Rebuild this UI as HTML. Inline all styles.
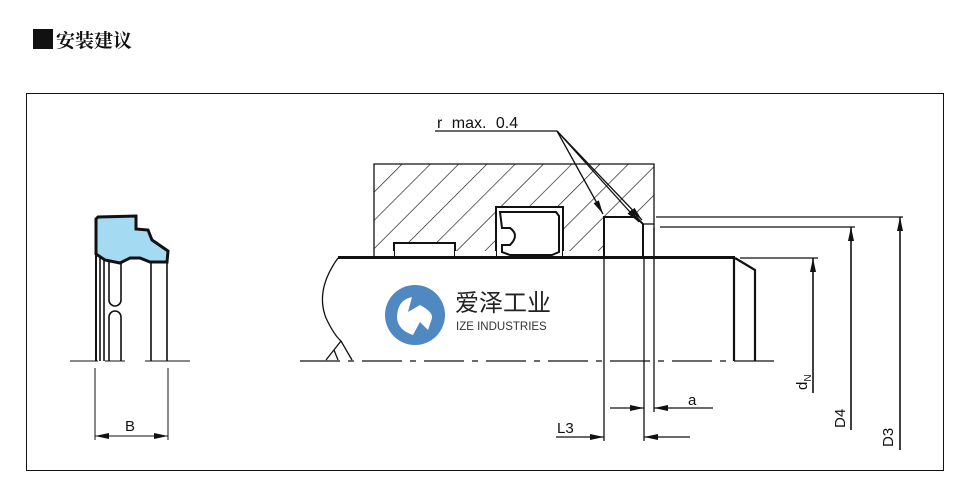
<!DOCTYPE html>
<html><head><meta charset="utf-8"><style>
html,body{margin:0;padding:0;background:#fff;width:958px;height:480px;overflow:hidden}
</style></head><body>
<svg width="958" height="480" viewBox="0 0 958 480" xmlns="http://www.w3.org/2000/svg" font-family="Liberation Sans, DejaVu Sans, sans-serif">
<defs>
<pattern id="h" patternUnits="userSpaceOnUse" width="20" height="20" patternTransform="rotate(45)">
<line x1="0" y1="0" x2="0" y2="20" stroke="#111" stroke-width="1.3"/>
</pattern>
<marker id="ar" markerWidth="14" markerHeight="6" refX="14" refY="3" orient="auto" markerUnits="userSpaceOnUse"><path d="M0,0 L14,3 L0,6 Z" fill="#111"/></marker>
</defs>
<rect x="33" y="29" width="20" height="20" fill="#111"/>
<text x="56" y="47" font-family="Noto Serif CJK SC, serif" font-weight="bold" font-size="19" fill="#111">安装建议</text>
<rect x="26.5" y="93.5" width="917" height="377" fill="none" stroke="#111" stroke-width="1"/>

<!-- left seal -->
<g stroke="#111" fill="none" stroke-width="1.6">
<line x1="70" y1="361" x2="98" y2="361" stroke-width="1"/>
<line x1="105" y1="361" x2="125" y2="361" stroke-width="1"/>
<line x1="145" y1="361" x2="190" y2="361" stroke-width="1"/>
<line x1="96" y1="225" x2="96" y2="361" stroke-width="2"/>
<line x1="100" y1="255" x2="100" y2="361"/>
<line x1="104" y1="260" x2="104" y2="361"/>
<path d="M109,262 V300 A5,5 0 0 0 121,300 V262"/>
<path d="M109,361 V317 A5,5 0 0 1 121,317 V361"/>
<line x1="151" y1="262" x2="151" y2="361"/>
<line x1="167" y1="262" x2="167" y2="361"/>
<path d="M96,219 L98,217 L136,216 L136,229 L148,230 L152,240 L168,251 L167,262 L150,262 L140,258 L130,258 L120,263 L105,260 L96,254 Z" fill="#a5dbf2" stroke-width="3"/>
<line x1="95" y1="368" x2="95" y2="440" stroke-width="1"/>
<line x1="168" y1="368" x2="168" y2="440" stroke-width="1"/>
<line x1="95" y1="436" x2="168" y2="436" marker-end="url(#ar)" stroke-width="1"/>
<line x1="168" y1="436" x2="95" y2="436" marker-end="url(#ar)" stroke-width="1"/>
</g>
<text x="125" y="431" font-size="15" fill="#111">B</text>

<!-- housing -->
<rect x="374" y="164" width="280" height="93" fill="url(#h)"/>
<g fill="#fff" stroke="#111">
<rect x="394" y="243" width="61" height="14" stroke-width="2"/>
<rect x="496" y="207" width="67" height="50" stroke-width="2"/>
<rect x="604" y="217" width="50" height="40" stroke="none"/>
<rect x="374" y="251" width="20" height="6" stroke="none"/>
<rect x="455" y="251" width="41" height="6" stroke="none"/>
<rect x="563" y="251" width="41" height="6" stroke="none"/>
</g>
<g stroke="#111" fill="none" stroke-width="1.3">
<path d="M374,257 V164 H654 V257"/>
<path d="M604,257 V217 H636 L643,224 V257" stroke-width="2"/>
<path d="M643,224 H654"/>
<path d="M500,212 H556 L559,216 V252 L552,255 H510 L502,252 V245 H510 Q520,235 510,228 H502 Z" stroke-width="2"/>
<line x1="338" y1="257.5" x2="735" y2="257.5" stroke-width="3"/>
<path d="M735,258 L755,270 V361" stroke-width="2.2"/>
<line x1="734" y1="258" x2="734" y2="361" stroke-width="2.2"/>
<path d="M338,258 Q315,290 326,318 Q334,335 341,341 L352,360 M341,341 L326,360 M334,350 L338,360"/>
<line x1="300" y1="361" x2="780" y2="361" stroke-dasharray="40,8,6,8"/>
<line x1="604" y1="257" x2="604" y2="441"/>
<line x1="644" y1="257" x2="644" y2="441"/>
<line x1="654" y1="228" x2="654" y2="412"/>
<line x1="610" y1="408" x2="644" y2="408" marker-end="url(#ar)"/>
<line x1="713" y1="408" x2="654" y2="408" marker-end="url(#ar)"/>
<line x1="556" y1="437" x2="604" y2="437" marker-end="url(#ar)"/>
<line x1="690" y1="437" x2="644" y2="437" marker-end="url(#ar)"/>
<line x1="656" y1="217" x2="903" y2="217"/>
<line x1="660" y1="227" x2="855" y2="227"/>
<line x1="740" y1="258" x2="818" y2="258"/>
<line x1="900" y1="450" x2="900" y2="217" marker-end="url(#ar)" stroke-width="1.6"/>
<line x1="851" y1="430" x2="851" y2="227" marker-end="url(#ar)" stroke-width="1.6"/>
<line x1="813" y1="393" x2="813" y2="258" marker-end="url(#ar)" stroke-width="1.6"/>
<line x1="435" y1="131" x2="557" y2="131"/>
<line x1="557" y1="131" x2="603" y2="214" marker-end="url(#ar)"/>
<line x1="557" y1="131" x2="642" y2="220" marker-end="url(#ar)"/>
<line x1="557" y1="131" x2="639" y2="222" marker-end="url(#ar)"/>
</g>
<text x="437" y="128" font-size="16" fill="#111" word-spacing="5">r max. 0.4</text>
<text x="688" y="405" font-size="15" fill="#111">a</text>
<text x="557" y="433" font-size="15" fill="#111">L3</text>
<text transform="translate(807,390) rotate(-90)" font-size="15" fill="#111">d<tspan font-size="10" dy="4">N</tspan></text>
<text transform="translate(845,428) rotate(-90)" font-size="15" fill="#111">D4</text>
<text transform="translate(893,447) rotate(-90)" font-size="15" fill="#111">D3</text>

<!-- logo -->
<circle cx="415" cy="315" r="30" fill="#5088c2"/>
<path d="M397,318 Q397,300 412,297 L408,312 L420,305 Q433,312 432,318 L428,330 L420,322 L413,335 Q398,330 397,318 Z" fill="#fff"/>
<text x="455" y="311" font-family="Noto Sans CJK SC, sans-serif" font-size="24" fill="#222">爱泽工业</text>
<text x="456" y="330" font-size="11.5" fill="#333">IZE INDUSTRIES</text>
</svg>
</body></html>
